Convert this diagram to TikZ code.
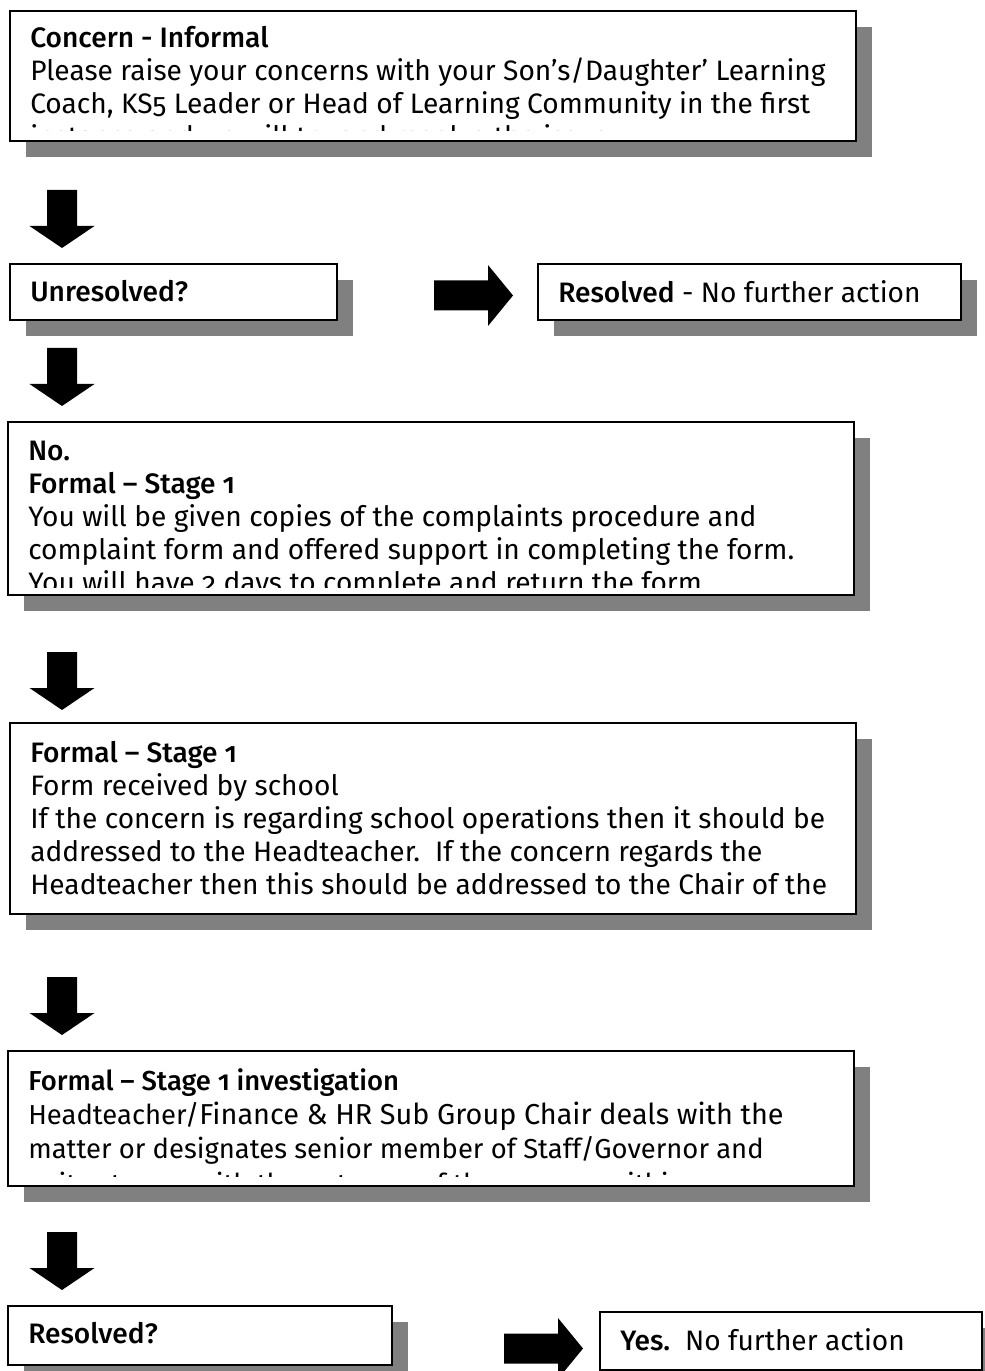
\documentclass[tikz,border=0pt]{standalone}
\usepackage{fontspec}
\setmainfont{Fira Sans}[Numbers=OldStyle, BoldFont={Fira Sans Medium}]
\usetikzlibrary{shadows}

\definecolor{shadowgrey}{HTML}{808080}
\newcommand\pxu{0.025cm}

\tikzset{
  flowbox/.style={draw, line width=1.3pt, fill=white, anchor=north west, inner sep=0pt,
    general shadow={fill=shadowgrey, shadow xshift=0.4cm, shadow yshift=-0.4cm}},
  flowtext/.style={anchor=north west, inner sep=0pt, align=left,
    font=\fontsize{20}{23.4}\selectfont},
  downblock/.pic={\fill (-15,0) -- (15,0) -- (15,36) -- (32.5,36) -- (0,58) -- (-32.5,36) -- (-15,36) -- cycle;},
  rightblock/.pic={\fill (0,-15) -- (54,-15) -- (54,-30.5) -- (79,0) -- (54,30.5) -- (54,15) -- (0,15) -- cycle;}
}

\begin{document}
\begin{tikzpicture}[x=0.025cm,y=-0.025cm]
  \useasboundingbox (0,0) rectangle (984,1371);

  % boxes
  \node[flowbox, minimum width=846*\pxu, minimum height=130*\pxu] (concern)    at (9,10)    {};
  \node[flowbox, minimum width=327*\pxu, minimum height=56*\pxu]  (unresolved) at (9,263)   {};
  \node[flowbox, minimum width=423*\pxu, minimum height=56*\pxu]  (resolved)   at (537,263) {};
  \node[flowbox, minimum width=846*\pxu, minimum height=173*\pxu] (stageone)   at (7,421)   {};
  \node[flowbox, minimum width=846*\pxu, minimum height=191*\pxu] (received)   at (9,722)   {};
  \node[flowbox, minimum width=846*\pxu, minimum height=135*\pxu] (investig)   at (7,1050)  {};
  \node[flowbox, minimum width=384*\pxu, minimum height=59*\pxu]  (resolvedq)  at (7,1305)  {};
  \node[flowbox, minimum width=382*\pxu, minimum height=58*\pxu]  (yes)        at (599,1311) {};

  % texts
  \begin{scope}
    \clip (concern.north west) rectangle ([yshift=11*\pxu]concern.south east);
    \node[flowtext] (concerntext) at ([shift={(21,16)}]concern.north west)
      {\textbf{Concern - Informal}\\
       Please raise your concerns with your Son’s/Daughter’ Learning\\
       Coach, KS5 Leader or Head of Learning Community in the first\\
       instance and we will try and resolve the issue.};
  \end{scope}
  \node[flowtext] (unresolvedtext) at ([shift={(21,17)}]unresolved.north west) {\textbf{Unresolved?}};
  \node[flowtext] (resolvedtext) at ([shift={(21,17)}]resolved.north west) {\textbf{Resolved} - No further action};
  \begin{scope}
    \clip (stageone.north west) rectangle ([yshift=8*\pxu]stageone.south east);
    \node[flowtext] (stageonetext) at ([shift={(21,20)}]stageone.north west)
      {\textbf{No.}\\
       \textbf{Formal – Stage 1}\\
       You will be given copies of the complaints procedure and\\
       complaint form and offered support in completing the form.\\
       You will have 2 days to complete and return the form.};
  \end{scope}
  \begin{scope}
    \clip (received.north west) rectangle ([yshift=14*\pxu]received.south east);
    \node[flowtext] (receivedtext) at ([shift={(21,19)}]received.north west)
      {\textbf{Formal – Stage 1}\\
       Form received by school\\
       If the concern is regarding school operations then it should be\\
       addressed to the Headteacher.\ \ If the concern regards the\\
       Headteacher then this should be addressed to the Chair of the\\
       Governors.};
  \end{scope}
  \begin{scope}
    \clip (investig.north west) rectangle ([yshift=10*\pxu]investig.south east);
    \node[flowtext, font=\fontsize{19.5}{24.4}\selectfont] (investigtext) at ([shift={(21,18)}]investig.north west)
      {\textbf{Formal – Stage 1 investigation}\\
       Headteacher/{\fontsize{20.5}{24.4}\selectfont Finance \& HR Sub Group Chair deals with the}\\
       matter or designates senior member of Staff/Governor and\\
       writes to you with the outcome of the concern within};
  \end{scope}
  \node[flowtext] (resolvedqtext) at ([shift={(21,17)}]resolvedq.north west) {\textbf{Resolved?}};
  \node[flowtext] (yestext) at ([shift={(21,17)}]yes.north west) {\textbf{Yes.}\ \ No further action};

  % block arrows
  \pic at (62,190)  {downblock};
  \pic at (62,348)  {downblock};
  \pic at (62,652)  {downblock};
  \pic at (62,977)  {downblock};
  \pic at (62,1232) {downblock};
  \pic at (434,295.5)  {rightblock};
  \pic at (504,1348.5) {rightblock};
\end{tikzpicture}
\end{document}
